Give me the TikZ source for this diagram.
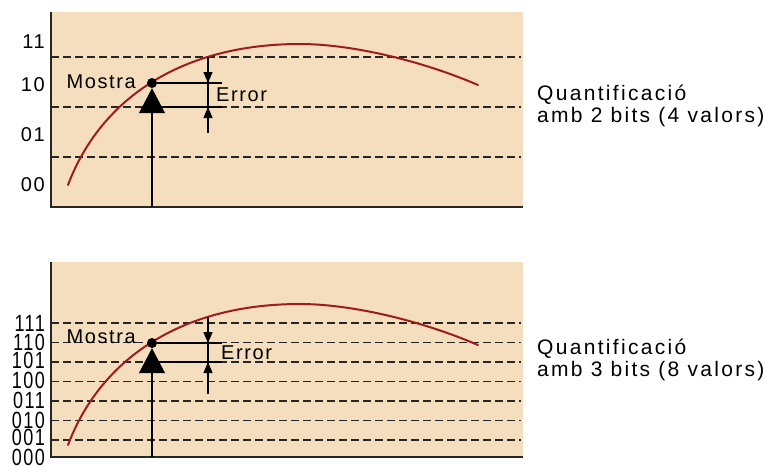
\documentclass[tikz,border=0pt]{standalone}
\usepackage{fontspec}
\setmainfont{Liberation Sans}[LetterSpace=8]
\usetikzlibrary{arrows.meta}
\definecolor{paper}{RGB}{245,222,190}
\definecolor{wave}{RGB}{158,28,28}

\begin{document}
\begin{tikzpicture}[x=1pt,y=-1pt,
  qline/.style={line width=1.5pt,black!85,dash pattern=on 8pt off 4pt},
  axis/.style={line width=2pt,black!85},
  sig/.style={line width=2pt,wave,line cap=round},
  thin/.style={line width=1.3pt},
  dot/.style={circle,fill,inner sep=0pt,minimum size=10pt},
  tip/.style={-{Triangle[width=9pt,length=11pt]},line width=1.3pt},
  bigtip/.style={-{Triangle[width=26pt,length=25pt]},line width=1.3pt},
  lab/.style={font=\fontsize{20}{20}\selectfont,inner sep=0pt},
  note/.style={font=\fontsize{21}{22}\selectfont\addfontfeature{LetterSpace=11},
    inner sep=0pt,anchor=west,align=left},
  code/.style={font=\fontsize{18}{18}\selectfont,inner sep=0pt,anchor=east}]
\useasboundingbox (0,0) rectangle (771,466);

% 2 bits
\fill[paper] (51,12) rectangle (523,207);
\foreach \y in {57,107,157} \draw[qline] (51,\y) -- (521,\y);
\draw[axis] (51,12) -- (51,207) -- (523,207);
\foreach \y/\t in {42/11,85/10,135/01,185/00}
  \node[lab,anchor=east] at (45,\y) {\t};
\draw[sig] (68,185) .. controls (100,100) and (180,44) .. (300,44)
  .. controls (350,44) and (420,60) .. (478,85);
\node[dot] (m1) at (152,83) {};
\coordinate (b1) at (152,207);
\draw[bigtip] (b1) -- (m1.south);
\draw[thin] (m1) -- (222,83);
\draw[thin] (152,107) -- (222,107);
\draw[thin] (208,57) -- (208,133);
\draw[tip] (208,70) -- (208,83);
\draw[tip] (208,121) -- (208,107);
\node[lab,anchor=east] at (136,82) {Mostra};
\node[lab,anchor=west] at (216,95) {Error};
\node[note] at (537,106) {Quantificació\\amb 2 bits (4 valors)};

% 3 bits
\fill[paper] (51,262) rectangle (523,457);
\foreach \y in {323,342.5,362,381.5,401,420.5,440} \draw[qline] (51,\y) -- (521,\y);
\draw[axis] (51,262) -- (51,457) -- (523,457);
\foreach \y/\t in {323/111,342/110,360/101,380/100,400/011,420/010,437/001,457/000}
  \node[code] at (45,\y) {\scalebox{1}[1.3]{\t}};
\draw[sig] (68,445) .. controls (100,360) and (180,304) .. (300,304)
  .. controls (350,304) and (420,320) .. (478,345);
\node[dot] (m2) at (152,343) {};
\coordinate (b2) at (152,457);
\draw[bigtip] (b2) -- (m2.south);
\draw[thin] (m2) -- (222,343);
\draw[thin] (152,362) -- (222,362);
\draw[thin] (208,317) -- (208,394);
\draw[tip] (208,330) -- (208,343);
\draw[tip] (208,376) -- (208,362);
\node[lab,anchor=east] at (136,337) {Mostra};
\node[lab,anchor=west] at (221,353) {Error};
\node[note] at (537,360) {Quantificació\\amb 3 bits (8 valors)};
\end{tikzpicture}
\end{document}
